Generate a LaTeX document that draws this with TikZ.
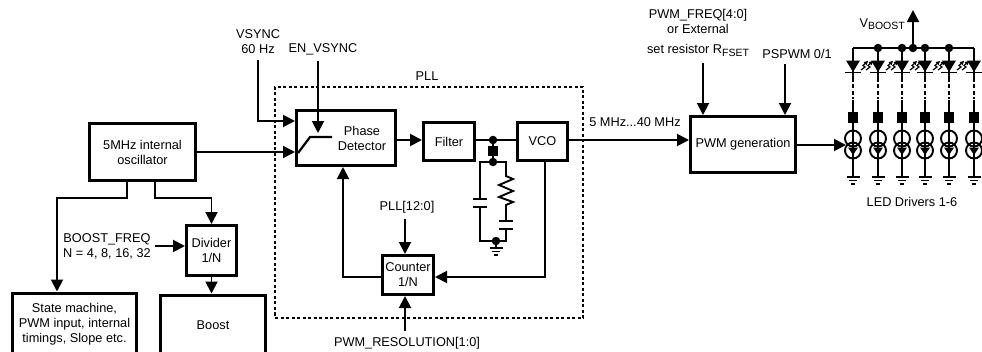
\documentclass[tikz,border=0pt]{standalone}
\usepackage{fontspec}
\setmainfont{Liberation Sans}
\usetikzlibrary{arrows.meta,shapes}
\tikzset{
  >={Triangle[length=12bp,width=12bp]},
  wire/.style={line width=1.9bp},
  lbl/.style={inner sep=0pt,align=center,font=\fontsize{12.75bp}{15bp}\selectfont},
  block/.style={draw,line width=3bp,inner sep=0pt,align=center,font=\fontsize{12.75bp}{15bp}\selectfont},
  dotnode/.style={circle,fill=black,inner sep=0pt,minimum size=8.5bp},
  sqnode/.style={rectangle,fill=black,inner sep=0pt,minimum size=10.5bp},
  srcnode/.style={circle,draw,line width=1.9bp,inner sep=0pt,minimum size=16bp},
  gnd/.pic={
    \draw[line width=1.5bp] (-6.5bp,0bp) -- (6.5bp,0bp);
    \draw[line width=1.5bp] (-4bp,-3.5bp) -- (4bp,-3.5bp);
    \draw[line width=1.5bp] (-2bp,-7bp) -- (2bp,-7bp);
  }
}
\newcommand{\subtxt}[1]{\raisebox{-2.5bp}{\fontsize{10.5bp}{12bp}\selectfont #1}}
\begin{document}
\begin{tikzpicture}
\useasboundingbox (0bp,0bp) rectangle (982bp,-352bp);

% left blocks
\node (osc) at (142.5bp,-152bp)[block,minimum width=106bp,minimum height=57bp] {5MHz internal\\oscillator};
\node (state) at (74.5bp,-324bp)[block,minimum width=124bp,minimum height=62bp] {State machine,\\PWM input, internal\\timings, Slope etc.};
\node (divider) at (211.5bp,-250.5bp)[block,minimum width=50bp,minimum height=50bp] {Divider\\1/N};
\node (boost) at (213bp,-325bp)[block,minimum width=105bp,minimum height=60bp] {Boost};
\node (bfreq) at (107bp,-246bp)[lbl] {BOOST\_FREQ\\N = 4, 8, 16, 32};
\coordinate (bfreqin) at (155bp,-246bp);
\coordinate (turn) at (0bp,-198bp);
\coordinate (oscl) at (127bp,-182bp);
\coordinate (oscr) at (155bp,-182bp);
\draw [wire,->] (oscl) |- (57bp,-198bp) -- (state.north -| 57bp,0bp);
\draw [wire,->] (oscr) |- (divider.north |- turn) -- (divider.north);
\draw [wire,->] (bfreqin) -- (divider.west |- bfreqin);
\draw [wire,->] (divider.south) -- (boost.north -| divider.south);

% PLL
\node (pll) at (429bp,-202.5bp)[draw,line width=1.8bp,dash pattern=on 3bp off 2.5bp,minimum width=308bp,minimum height=231bp] {};
\node (plltxt) at (427bp,-76bp)[lbl] {PLL};
\node (phase) at (346bp,-138bp)[block,minimum width=99bp,minimum height=55bp] {};
\node (phasetxt) at (362bp,-138bp)[lbl] {Phase\\Detector};
\node (filter) at (449bp,-141.5bp)[block,minimum width=51bp,minimum height=38bp] {Filter};
\node (vco) at (542.5bp,-141.5bp)[block,minimum width=50bp,minimum height=38bp] {VCO};
\node (counter) at (408bp,-275bp)[block,minimum width=51bp,minimum height=39bp] {Counter\\1/N};
\node (vsync) at (258bp,-42bp)[lbl] {VSYNC\\60 Hz};
\node (envsync) at (323bp,-49bp)[lbl] {EN\_VSYNC};
\node (pllreg) at (407bp,-207bp)[lbl] {PLL[12:0]};
\node (pllres) at (407bp,-343bp)[lbl] {PWM\_RESOLUTION[1:0]};
\node (j1) at (493bp,-140bp)[dotnode] {};
\node (j2) at (493bp,-162bp)[dotnode] {};
\node (j3) at (496bp,-241bp)[dotnode] {};
\node (sq) at (493bp,-151bp)[sqnode] {};
\coordinate (sig) at (0bp,-140bp);
\coordinate (vsyncin) at (258bp,-60bp);
\coordinate (vsyncto) at (0bp,-121bp);
\coordinate (envin) at (318bp,-61bp);
\coordinate (envto) at (318bp,-133bp);
\coordinate (regin) at (405bp,-219bp);
\coordinate (resin) at (405bp,-331bp);
\coordinate (fb) at (0bp,-277bp);
\coordinate (vcoout) at (545bp,-162bp);
\draw [wire,->] (vsyncin) |- (phase.west |- vsyncto);
\draw [wire,->] (osc.east) -- (phase.west |- osc.east);
\draw [wire,->] (envin) -- (envto);
\draw [wire,line width=2.2bp] (298bp,-153bp) -- (310bp,-137bp) -- (332bp,-137bp);
\draw [wire,->] (phase.east |- sig) -- (filter.west |- sig);
\draw [wire] (filter.east |- sig) -- (vco.west |- sig);
\draw [wire] (j1) -- (j2);
\draw [wire,->] (vcoout) |- (counter.east |- fb);
\draw [wire,->] (counter.west |- fb) -| (phase.south -| 343bp,0bp);
\draw [wire,->] (regin) -- (counter.north -| regin);
\draw [wire,->] (resin) -- (counter.south -| resin);

% loop filter
\draw [wire] (480bp,-199bp) -- (480bp,-162bp) -- (j2.center) -- (506bp,-162bp) -- (506bp,-176bp)
  -- (513bp,-179bp) -- (499bp,-185bp) -- (513bp,-191bp) -- (499bp,-197bp) -- (513bp,-202bp) -- (506bp,-205bp) -- (506bp,-221bp);
\draw [wire] (499bp,-221bp) -- (513bp,-221bp);
\draw [wire] (499bp,-229bp) -- (513bp,-229bp);
\draw [wire] (473bp,-199bp) -- (487bp,-199bp);
\draw [wire] (473bp,-207bp) -- (487bp,-207bp);
\draw [wire] (480bp,-207bp) -- (480bp,-241bp) -- (506bp,-241bp) -- (506bp,-229bp);
\draw [wire] (j3) -- (496bp,-248bp);
\pic at (496bp,-248bp) {gnd};

% PWM generation
\node (pwmgen) at (743bp,-144.5bp)[block,minimum width=105bp,minimum height=56bp] {PWM generation};
\node (pwmfreq) at (698bp,-33bp)[lbl] {PWM\_FREQ[4:0]\\or External\\[5bp]set resistor R\subtxt{FSET}};
\node (pspwm) at (797bp,-54bp)[lbl] {PSPWM 0/1};
\node (freqtxt) at (635bp,-122bp)[lbl] {5 MHz...40 MHz};
\coordinate (freqin) at (703bp,-63bp);
\coordinate (pspwmin) at (785bp,-64bp);
\draw [wire,->] (vco.east |- sig) -- (pwmgen.west |- sig);
\draw [wire,->] (freqin) -- (pwmgen.north -| freqin);
\draw [wire,->] (pspwmin) -- (pwmgen.north -| pspwmin);

% LED drivers
\coordinate (drvin) at (846bp,-145bp);
\draw [wire,->] (pwmgen.east |- drvin) -- (drvin);
\foreach \i/\x in {1/853,2/878,3/902,4/925,5/949,6/974} {
  \coordinate (top\i) at (\x bp,-48bp);
  \coordinate (led\i) at (\x bp,-72bp);
  \node (sq\i) at (\x bp,-117.5bp)[sqnode] {};
  \node (cs\i) at (\x bp,-138.5bp)[srcnode] {};
  \node (cd\i) at (\x bp,-150.5bp)[srcnode] {};
  \coordinate (end\i) at (\x bp,-177bp);
  \draw [wire] (top\i) -- (led\i) -- (\x bp,-82bp);
  \draw [wire,dash pattern=on 4bp off 2.5bp] (\x bp,-84bp) -- (\x bp,-99bp);
  \draw [wire] (\x bp,-100bp) -- (sq\i) -- (end\i);
  \fill (\x bp-7bp,-60.5bp) -- (\x bp+7bp,-60.5bp) -- (led\i) -- cycle;
  \draw [wire] (\x bp-8bp,-72.5bp) -- (\x bp+8bp,-72.5bp);
  \fill (\x bp-5bp,-147.5bp) -- (\x bp+5bp,-147.5bp) -- (\x bp,-155bp) -- cycle;
  \pic at (end\i) {gnd};
}
\foreach \x in {853,878,902,925,949} {
  \foreach \d in {0,5} {
    \draw [line width=1.2bp,-{Triangle[length=4bp,width=4bp]}] (\x bp+8bp+\d bp,-70bp) -- (\x bp+12bp+\d bp,-67bp) -- (\x bp+10bp+\d bp,-65.5bp) -- (\x bp+15bp+\d bp,-61bp);
  }
}
\draw [wire] (top1) -- (top6);
\node (d1) at (878bp,-48bp)[dotnode] {};
\node (d2) at (902bp,-48bp)[dotnode] {};
\node (d3) at (913bp,-48bp)[dotnode] {};
\node (d4) at (925bp,-48bp)[dotnode] {};
\node (d5) at (949bp,-48bp)[dotnode] {};
\coordinate (vbout) at (913bp,-10bp);
\draw [wire,->] (d3) -- (vbout);
\node (vboost) at (905bp,-24bp)[lbl,anchor=east] {V\subtxt{BOOST}};
\node (ledtxt) at (912bp,-202bp)[lbl] {LED Drivers 1-6};
\end{tikzpicture}
\end{document}
